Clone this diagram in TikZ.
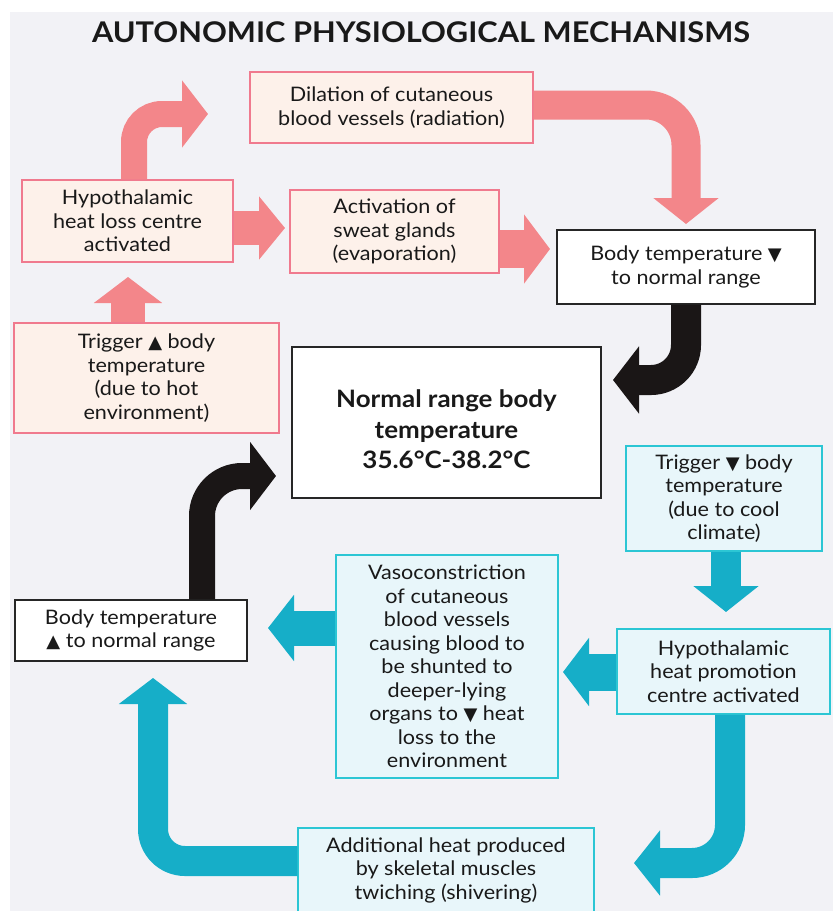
\documentclass[tikz,border=0pt]{standalone}
\usepackage{fontspec}
\setmainfont{Lato}[FakeStretch=1.08]
\newfontfamily\symfont{DejaVu Sans}
\usetikzlibrary{arrows.meta}
\newcommand\tup{{\symfont\fontsize{18}{18}\selectfont ▲}}
\newcommand\tdown{{\symfont\fontsize{18}{18}\selectfont ▼}}
\definecolor{bgcol}{RGB}{242,242,246}
\definecolor{pinkarr}{RGB}{243,134,138}
\definecolor{pinkline}{RGB}{240,122,142}
\definecolor{pinkfill}{RGB}{253,241,234}
\definecolor{bluearr}{RGB}{22,174,200}
\definecolor{blueline}{RGB}{44,198,212}
\definecolor{bluefill}{RGB}{232,246,250}
\definecolor{blackarr}{RGB}{26,22,22}
\tikzset{
  txt/.style={font=\fontsize{20}{23.5}\selectfont, align=center, inner sep=0pt, text=black!90},
  pinkbox/.style={txt, draw=pinkline, fill=pinkfill, line width=1.2pt},
  bluebox/.style={txt, draw=blueline, fill=bluefill, line width=1.5pt},
  blackbox/.style={txt, draw=black!85, fill=white, line width=1.3pt},
  fat/.style n args={3}{draw=#1, line width=#2, -{Triangle[length=26pt,width=#3]}},
}
\begin{document}
\begin{tikzpicture}[x=1pt,y=-1pt]
\useasboundingbox (0,0) rectangle (833,911);
\fill[bgcol] (10,12) rectangle (833,911);

\node[font=\fontsize{28.5}{32}\bfseries\selectfont, text=black!90] (title) at (421,32) {AUTONOMIC PHYSIOLOGICAL MECHANISMS};

% pink boxes
\node[pinkbox, minimum width=283pt, minimum height=71pt] (dil) at (391.5,107.5) {Dilation of cutaneous\\blood vessels (radiation)};
\node[pinkbox, minimum width=211pt, minimum height=82pt] (hyp) at (127.5,221) {Hypothalamic\\heat loss centre\\activated};
\node[pinkbox, minimum width=209pt, minimum height=83pt] (sweat) at (394.5,231.5) {Activation of\\sweat glands\\(evaporation)};
\node[pinkbox, minimum width=265pt, minimum height=110pt] (trighot) at (146.5,378) {Trigger \tup\ body\\temperature\\(due to hot\\environment)};

% black boxes
\node[blackbox, minimum width=258pt, minimum height=74pt] (bdown) at (686,267) {Body temperature \tdown\\to normal range};
\node[blackbox, minimum width=309pt, minimum height=151pt, font=\fontsize{24}{30.5}\bfseries\selectfont,
      label={[font=\fontsize{24}{30.5}\bfseries\selectfont, align=center, text=black!90, yshift=-7pt]center:Normal range body\\temperature\\35.6°C-38.2°C}] (normal) at (446.5,422.5) {};
\node[blackbox, minimum width=232pt, minimum height=61pt] (bup) at (131,630.5) {Body temperature\\\tup\ to normal range};

% blue boxes
\node[bluebox, minimum width=196pt, minimum height=105pt] (trigcold) at (724,498.5) {Trigger \tdown\ body\\temperature\\(due to cool\\climate)};
\node[bluebox, minimum width=222pt, minimum height=223pt] (vaso) at (447,666.5) {Vasoconstriction\\of cutaneous\\blood vessels\\causing blood to\\be shunted to\\deeper-lying\\organs to \tdown\ heat\\loss to the\\environment};
\node[bluebox, minimum width=213pt, minimum height=85pt] (hypheat) at (723.5,671.5) {Hypothalamic\\heat promotion\\centre activated};
\node[bluebox, minimum width=296pt, minimum height=84pt] (addheat) at (446,870) {Additional heat produced\\by skeletal muscles\\twiching (shivering)};

% free arrow ends
\coordinate (t1) at (208,114);
\coordinate (t2) at (285,228);
\coordinate (t3) at (550,249);
\coordinate (t4) at (686,224);
\coordinate (t5) at (128,277);
\coordinate (c6) at (686,0);
\coordinate (t6) at (613,380);
\coordinate (c7) at (202,0);
\coordinate (t7) at (276,476);
\coordinate (t8) at (726,612);
\coordinate (t9) at (563,672);
\coordinate (t10) at (268,628);
\coordinate (c11) at (730,0);
\coordinate (t11) at (634,863);
\coordinate (c12) at (0,861);
\coordinate (t12) at (153,678);

% pink arrows
\draw[fat={pinkarr}{26pt}{66pt}, rounded corners=28pt] ([xshift=6.5pt]hyp.north) |- (t1);
\draw[fat={pinkarr}{34pt}{62pt}] (hyp.east |- t2) -- (t2);
\draw[fat={pinkarr}{38pt}{68pt}] (sweat.east |- t3) -- (t3);
\draw[fat={pinkarr}{29pt}{64pt}, rounded corners=40pt] ([yshift=2.5pt]dil.east) -| (t4);
\draw[fat={pinkarr}{34pt}{67pt}] (trighot.north -| t5) -- (t5);

% black arrows
\draw[fat={blackarr}{30pt}{66pt}, rounded corners=35pt] (bdown.south -| c6) |- (t6);
\draw[fat={blackarr}{26pt}{67pt}, rounded corners=40pt] (bup.north -| c7) |- (t7);

% blue arrows
\draw[fat={bluearr}{30pt}{64pt}] (trigcold.south -| t8) -- (t8);
\draw[fat={bluearr}{37pt}{67pt}] (hypheat.west |- t9) -- (t9);
\draw[fat={bluearr}{35pt}{65pt}] (vaso.west |- t10) -- (t10);
\draw[fat={bluearr}{30pt}{64pt}, rounded corners=38pt] (hypheat.south -| c11) |- (t11);
\draw[fat={bluearr}{30pt}{67pt}, rounded corners=32pt] (addheat.west |- c12) -| (t12);
\end{tikzpicture}
\end{document}
